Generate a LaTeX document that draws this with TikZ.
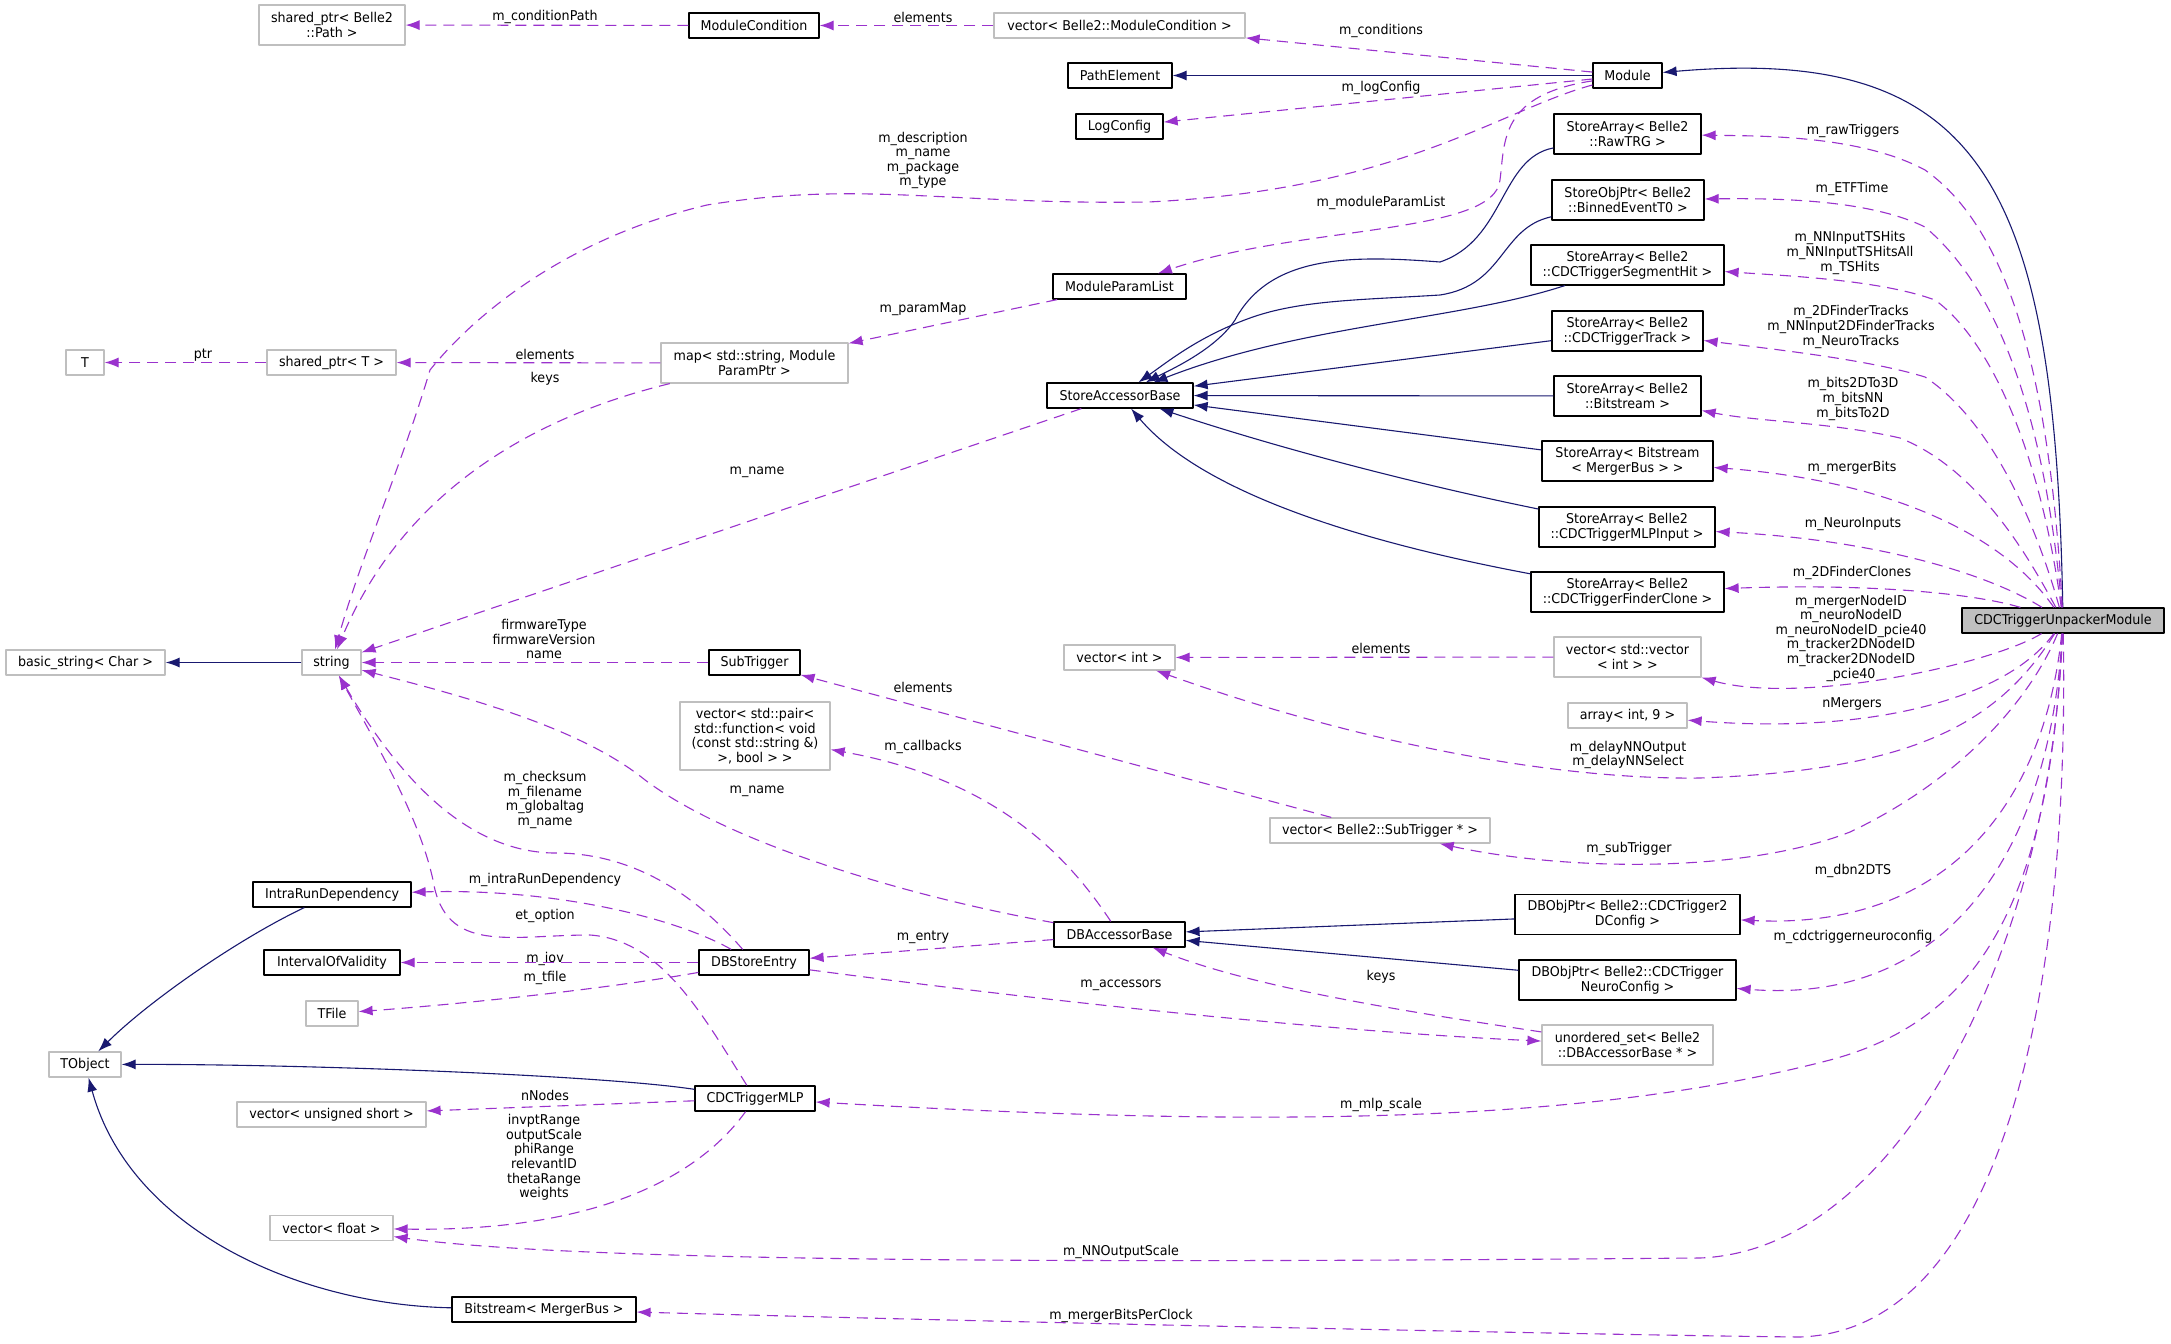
\documentclass[tikz,border=0pt]{standalone}
\usepackage{fontspec}
\setmainfont{DejaVu Sans}[FakeStretch=0.94]
\usetikzlibrary{arrows.meta}
\definecolor{edgeblue}{HTML}{191970}
\definecolor{edgepurple}{HTML}{9A32CD}
\definecolor{boxgray}{HTML}{BFBFBF}
\begin{document}
\begin{tikzpicture}[>={Latex[length=14bp,width=10bp]},line join=bevel,yscale=-1,
  font=\fontsize{13.5bp}{14.6bp}\selectfont,
  docbox/.style={draw=black,fill=white,line width=1.2bp,inner sep=2bp,minimum height=25bp,align=center},
  extbox/.style={docbox,draw=boxgray},
  edgelbl/.style={align=center,inner sep=0bp},
  baseedge/.style={draw=edgeblue,line width=1.1bp,->},
  memberedge/.style={draw=edgepurple,line width=1.1bp,dash pattern=on 11bp off 7bp,->},
]
%%
\fill [white] (0bp,0bp) rectangle (2171bp,1344bp);
\useasboundingbox (0bp,0bp) rectangle (2171bp,1344bp);
\node (shptr_path) at (332bp,25bp) [extbox,minimum width=146bp,minimum height=40bp] {shared\_ptr< Belle2\\::Path >};
  \node (module_condition) at (754bp,25.5bp) [docbox,minimum width=130bp] {ModuleCondition};
  \node (vec_module_condition) at (1119.5bp,25.5bp) [extbox,minimum width=251bp] {vector< Belle2::ModuleCondition >};
  \node (path_element) at (1120bp,75.5bp) [docbox,minimum width=104bp] {PathElement};
  \node (module) at (1627.5bp,75.5bp) [docbox,minimum width=69bp] {Module};
  \node (log_config) at (1119.5bp,126.5bp) [docbox,minimum width=87bp] {LogConfig};
  \node (raw_trg) at (1627.5bp,134bp) [docbox,minimum width=147bp,minimum height=40bp] {StoreArray< Belle2\\::RawTRG >};
  \node (binned_t0) at (1628bp,200bp) [docbox,minimum width=152bp,minimum height=40bp] {StoreObjPtr< Belle2\\::BinnedEventT0 >};
  \node (module_param_list) at (1119.5bp,286.5bp) [docbox,minimum width=133bp] {ModuleParamList};
  \node (segment_hit) at (1627.5bp,265bp) [docbox,minimum width=193bp,minimum height=40bp] {StoreArray< Belle2\\::CDCTriggerSegmentHit >};
  \node (t_node) at (85bp,362.5bp) [extbox,minimum width=38bp] {T};
  \node (shptr_t) at (331.5bp,362.5bp) [extbox,minimum width=129bp] {shared\_ptr< T >};
  \node (param_map) at (754.5bp,363bp) [extbox,minimum width=187bp,minimum height=40bp] {map< std::string, Module\\ParamPtr >};
  \node (trigger_track) at (1627.5bp,331bp) [docbox,minimum width=151bp,minimum height=40bp] {StoreArray< Belle2\\::CDCTriggerTrack >};
  \node (store_accessor) at (1120bp,395.5bp) [docbox,minimum width=146bp] {StoreAccessorBase};
  \node (bitstream) at (1627.5bp,396bp) [docbox,minimum width=147bp,minimum height=40bp] {StoreArray< Belle2\\::Bitstream >};
  \node (merger_bits) at (1627.5bp,461bp) [docbox,minimum width=171bp,minimum height=40bp] {StoreArray< Bitstream\\< MergerBus > >};
  \node (mlp_input) at (1627bp,527bp) [docbox,minimum width=176bp,minimum height=40bp] {StoreArray< Belle2\\::CDCTriggerMLPInput >};
  \node (finder_clone) at (1627.5bp,592bp) [docbox,minimum width=193bp,minimum height=40bp] {StoreArray< Belle2\\::CDCTriggerFinderClone >};
  \node (unpacker) at (2063bp,620.5bp) [docbox,fill=boxgray,minimum width=202bp] {CDCTriggerUnpackerModule};
  \node (vec_vec_int) at (1627.5bp,657bp) [extbox,minimum width=147bp,minimum height=40bp] {vector< std::vector\\< int > >};
  \node (vec_int) at (1119.5bp,657.5bp) [extbox,minimum width=111bp] {vector< int >};
  \node (basic_string) at (85.5bp,662.5bp) [extbox,minimum width=159bp] {basic\_string< Char >};
  \node (string_node) at (331.5bp,662.5bp) [extbox,minimum width=59bp] {string};
  \node (sub_trigger) at (754.5bp,662.5bp) [docbox,minimum width=91bp] {SubTrigger};
  \node (array_int) at (1627.5bp,715.5bp) [extbox,minimum width=119bp] {array< int, 9 >};
  \node (vec_pair) at (755bp,736bp) [extbox,minimum width=150bp,minimum height=68bp] {vector< std::pair<\\std::function< void\\(const std::string \&)\\>, bool > >};
  \node (vec_sub_trigger) at (1380bp,830.5bp) [extbox,minimum width=220bp] {vector< Belle2::SubTrigger * >};
  \node (intra_run) at (332bp,894.5bp) [docbox,minimum width=158bp] {IntraRunDependency};
  \node (db_2d) at (1627.5bp,914.5bp) [docbox,minimum width=225bp,minimum height=40bp] {DBObjPtr< Belle2::CDCTrigger2\\DConfig >};
  \node (db_accessor) at (1119.5bp,934.5bp) [docbox,minimum width=131bp] {DBAccessorBase};
  \node (iov) at (332bp,962.5bp) [docbox,minimum width=136bp] {IntervalOfValidity};
  \node (db_store_entry) at (754bp,962.5bp) [docbox,minimum width=110bp] {DBStoreEntry};
  \node (db_neuro) at (1627.5bp,980bp) [docbox,minimum width=217bp,minimum height=40bp] {DBObjPtr< Belle2::CDCTrigger\\NeuroConfig >};
  \node (tfile) at (332bp,1013.5bp) [extbox,minimum width=52bp] {TFile};
  \node (unordered_set) at (1627.5bp,1045bp) [extbox,minimum width=171bp,minimum height=40bp] {unordered\_set< Belle2\\::DBAccessorBase * >};
  \node (tobject) at (85bp,1064.5bp) [extbox,minimum width=72bp] {TObject};
  \node (cdc_mlp) at (755bp,1098.5bp) [docbox,minimum width=120bp] {CDCTriggerMLP};
  \node (vec_ushort) at (331.5bp,1114.5bp) [extbox,minimum width=189bp] {vector< unsigned short >};
  \node (vec_float) at (331.5bp,1228bp) [extbox,minimum width=123bp] {vector< float >};
  \node (merger_bus) at (544bp,1309.5bp) [docbox,minimum width=184bp] {Bitstream< MergerBus >};
%%
\node (lbl_condition_path) at (545bp,17bp) [edgelbl] {m\_conditionPath};
  \node (lbl_cond_elements) at (923bp,17bp) [edgelbl] {elements};
  \node (lbl_conditions) at (1381bp,31bp) [edgelbl] {m\_conditions};
  \node (lbl_log_config) at (1381bp,88bp) [edgelbl] {m\_logConfig};
  \node (lbl_description) at (923bp,160.5bp) [edgelbl] {m\_description\\m\_name\\m\_package\\m\_type};
  \node (lbl_param_list) at (1381bp,203bp) [edgelbl] {m\_moduleParamList};
  \node (lbl_param_map) at (923bp,309bp) [edgelbl] {m\_paramMap};
  \node (lbl_ptr) at (203bp,355bp) [edgelbl] {ptr};
  \node (lbl_map_elements) at (545bp,354bp) [edgelbl] {elements};
  \node (lbl_keys) at (545bp,379bp) [edgelbl] {keys};
  \node (lbl_sab_name) at (757bp,472bp) [edgelbl] {m\_name};
  \node (lbl_firmware) at (544bp,639bp) [edgelbl] {firmwareType\\firmwareVersion\\name};
  \node (lbl_checksum) at (545bp,800bp) [edgelbl] {m\_checksum\\m\_filename\\m\_globaltag\\m\_name};
  \node (lbl_intra) at (545bp,880bp) [edgelbl] {m\_intraRunDependency};
  \node (lbl_et_option) at (545bp,916bp) [edgelbl] {et\_option};
  \node (lbl_iov) at (545bp,959bp) [edgelbl] {m\_iov};
  \node (lbl_tfile) at (545bp,978bp) [edgelbl] {m\_tfile};
  \node (lbl_nnodes) at (545bp,1095bp) [edgelbl] {nNodes};
  \node (lbl_mlp_members) at (544bp,1157.5bp) [edgelbl] {invptRange\\outputScale\\phiRange\\relevantID\\thetaRange\\weights};
  \node (lbl_subtrig_elements) at (923bp,687bp) [edgelbl] {elements};
  \node (lbl_callbacks) at (923bp,747bp) [edgelbl] {m\_callbacks};
  \node (lbl_dba_name) at (757bp,791bp) [edgelbl] {m\_name};
  \node (lbl_entry) at (923bp,937bp) [edgelbl] {m\_entry};
  \node (lbl_accessors) at (1121bp,985bp) [edgelbl] {m\_accessors};
  \node (lbl_set_keys) at (1381bp,977bp) [edgelbl] {keys};
  \node (lbl_vec_elements) at (1381bp,648bp) [edgelbl] {elements};
  \node (lbl_raw) at (1853bp,131bp) [edgelbl] {m\_rawTriggers};
  \node (lbl_etf) at (1852bp,189bp) [edgelbl] {m\_ETFTime};
  \node (lbl_ts_hits) at (1850bp,253bp) [edgelbl] {m\_NNInputTSHits\\m\_NNInputTSHitsAll\\m\_TSHits};
  \node (lbl_tracks) at (1851bp,327bp) [edgelbl] {m\_2DFinderTracks\\m\_NNInput2DFinderTracks\\m\_NeuroTracks};
  \node (lbl_bits) at (1853bp,399bp) [edgelbl] {m\_bits2DTo3D\\m\_bitsNN\\m\_bitsTo2D};
  \node (lbl_merger_bits) at (1852bp,468bp) [edgelbl] {m\_mergerBits};
  \node (lbl_neuro_inputs) at (1853bp,524bp) [edgelbl] {m\_NeuroInputs};
  \node (lbl_clones) at (1852bp,573bp) [edgelbl] {m\_2DFinderClones};
  \node (lbl_node_ids) at (1851bp,638bp) [edgelbl] {m\_mergerNodeID\\m\_neuroNodeID\\m\_neuroNodeID\_pcie40\\m\_tracker2DNodeID\\m\_tracker2DNodeID\\\_pcie40};
  \node (lbl_nmergers) at (1852bp,704bp) [edgelbl] {nMergers};
  \node (lbl_delay) at (1628bp,755bp) [edgelbl] {m\_delayNNOutput\\m\_delayNNSelect};
  \node (lbl_subtrigger) at (1629bp,849bp) [edgelbl] {m\_subTrigger};
  \node (lbl_dbn) at (1853bp,871bp) [edgelbl] {m\_dbn2DTS};
  \node (lbl_neuroconfig) at (1853bp,937bp) [edgelbl] {m\_cdctriggerneuroconfig};
  \node (lbl_mlp_scale) at (1381bp,1105bp) [edgelbl] {m\_mlp\_scale};
  \node (lbl_nn_output) at (1121bp,1252bp) [edgelbl] {m\_NNOutputScale};
  \node (lbl_bits_per_clock) at (1121bp,1316bp) [edgelbl] {m\_mergerBitsPerClock};
%%
  \draw [baseedge] (module) -- (path_element);
  \draw [baseedge] (unpacker) .. controls (2055bp,180bp) and (1980bp,45bp) .. (module);
  \draw [baseedge] (raw_trg) .. controls (1500bp,158bp) and (1505bp,240bp) .. (1440bp,262bp) .. controls (1350bp,255bp) and (1270bp,255bp) .. (1235bp,320bp) .. controls (1215bp,350bp) and (1170bp,370bp) .. (store_accessor);
  \draw [baseedge] (binned_t0) .. controls (1500bp,228bp) and (1505bp,285bp) .. (1440bp,295bp) .. controls (1360bp,300bp) and (1300bp,300bp) .. (1250bp,318bp) .. controls (1200bp,336bp) and (1170bp,360bp) .. (store_accessor);
  \draw [baseedge] (segment_hit) .. controls (1460bp,320bp) and (1300bp,325bp) .. (store_accessor);
  \draw [baseedge] (trigger_track) -- (store_accessor);
  \draw [baseedge] (bitstream) -- (store_accessor);
  \draw [baseedge] (merger_bits) -- (store_accessor);
  \draw [baseedge] (mlp_input) .. controls (1430bp,487bp) and (1290bp,452bp) .. (store_accessor);
  \draw [baseedge] (finder_clone) .. controls (1350bp,540bp) and (1200bp,490bp) .. (store_accessor);
  \draw [baseedge] (string_node) -- (basic_string);
  \draw [baseedge] (intra_run) .. controls (240bp,938bp) and (150bp,1000bp) .. (tobject);
  \draw [baseedge] (cdc_mlp) .. controls (600bp,1075bp) and (300bp,1064bp) .. (tobject);
  \draw [baseedge] (merger_bus) .. controls (300bp,1305bp) and (130bp,1230bp) .. (tobject);
  \draw [baseedge] (db_2d) -- (db_accessor);
  \draw [baseedge] (db_neuro) -- (db_accessor);
%
  \draw [memberedge] (module_condition) -- (shptr_path);
  \draw [memberedge] (vec_module_condition) -- (module_condition);
  \draw [memberedge] (module) -- (vec_module_condition);
  \draw [memberedge] (module) -- (log_config);
  \draw [memberedge] (module) .. controls (1500bp,110bp) and (1400bp,190bp) .. (1148bp,202bp) .. controls (950bp,205bp) and (860bp,180bp) .. (707bp,205bp) .. controls (560bp,240bp) and (470bp,320bp) .. (430bp,370bp) .. controls (400bp,470bp) and (360bp,560bp) .. (string_node);
  \draw [memberedge] (module) .. controls (1500bp,95bp) and (1505bp,140bp) .. (1500bp,180bp) .. controls (1495bp,235bp) and (1300bp,225bp) .. (module_param_list);
  \draw [memberedge] (module_param_list) -- (param_map);
  \draw [memberedge] (param_map) -- (shptr_t);
  \draw [memberedge] (shptr_t) -- (t_node);
  \draw [memberedge] (param_map) .. controls (520bp,420bp) and (400bp,500bp) .. (string_node);
  \draw [memberedge] (store_accessor) -- (string_node);
  \draw [memberedge] (sub_trigger) -- (string_node);
  \draw [memberedge] (db_accessor) .. controls (900bp,895bp) and (720bp,840bp) .. (640bp,776bp) .. controls (580bp,730bp) and (480bp,700bp) .. (string_node);
  \draw [memberedge] (db_store_entry) .. controls (700bp,900bp) and (640bp,855bp) .. (560bp,853bp) .. controls (470bp,855bp) and (400bp,780bp) .. (string_node);
  \draw [memberedge] (cdc_mlp) .. controls (700bp,1010bp) and (660bp,940bp) .. (590bp,935bp) .. controls (510bp,935bp) and (445bp,955bp) .. (433bp,880bp) .. controls (420bp,820bp) and (380bp,750bp) .. (string_node);
  \draw [memberedge] (vec_sub_trigger) -- (sub_trigger);
  \draw [memberedge] (db_accessor) .. controls (1070bp,860bp) and (1000bp,780bp) .. (vec_pair);
  \draw [memberedge] (vec_vec_int) -- (vec_int);
  \draw [memberedge] (unpacker) .. controls (2000bp,720bp) and (1920bp,770bp) .. (1700bp,778bp) .. controls (1550bp,780bp) and (1350bp,740bp) .. (vec_int);
  \draw [memberedge] (db_store_entry) .. controls (1000bp,995bp) and (1300bp,1030bp) .. (unordered_set);
  \draw [memberedge] (unordered_set) .. controls (1430bp,1015bp) and (1260bp,990bp) .. (db_accessor);
  \draw [memberedge] (db_accessor) -- (db_store_entry);
  \draw [memberedge] (db_store_entry) .. controls (680bp,920bp) and (560bp,888bp) .. (intra_run);
  \draw [memberedge] (db_store_entry) -- (iov);
  \draw [memberedge] (db_store_entry) .. controls (600bp,990bp) and (450bp,1005bp) .. (tfile);
  \draw [memberedge] (cdc_mlp) -- (vec_ushort);
  \draw [memberedge] (cdc_mlp) .. controls (700bp,1175bp) and (600bp,1232bp) .. (vec_float);
%
  \draw [memberedge] (unpacker) .. controls (2050bp,380bp) and (2010bp,230bp) .. (1925bp,170bp) .. controls (1860bp,135bp) and (1760bp,136bp) .. (raw_trg);
  \draw [memberedge] (unpacker) .. controls (2045bp,420bp) and (2000bp,290bp) .. (1925bp,227bp) .. controls (1870bp,200bp) and (1780bp,198bp) .. (binned_t0);
  \draw [memberedge] (unpacker) .. controls (2040bp,450bp) and (1990bp,340bp) .. (1935bp,300bp) .. controls (1880bp,280bp) and (1790bp,276bp) .. (segment_hit);
  \draw [memberedge] (unpacker) .. controls (2035bp,520bp) and (1990bp,420bp) .. (1925bp,377bp) .. controls (1870bp,360bp) and (1780bp,350bp) .. (trigger_track);
  \draw [memberedge] (unpacker) .. controls (2030bp,560bp) and (1980bp,470bp) .. (1900bp,438bp) .. controls (1830bp,422bp) and (1760bp,422bp) .. (bitstream);
  \draw [memberedge] (unpacker) .. controls (2000bp,530bp) and (1880bp,480bp) .. (merger_bits);
  \draw [memberedge] (unpacker) .. controls (1990bp,575bp) and (1880bp,540bp) .. (mlp_input);
  \draw [memberedge] (unpacker) .. controls (1980bp,595bp) and (1880bp,583bp) .. (finder_clone);
  \draw [memberedge] (unpacker) .. controls (1990bp,665bp) and (1800bp,705bp) .. (vec_vec_int);
  \draw [memberedge] (unpacker) .. controls (2010bp,695bp) and (1880bp,735bp) .. (array_int);
  \draw [memberedge] (unpacker) .. controls (2030bp,700bp) and (1960bp,780bp) .. (1850bp,832bp) .. controls (1740bp,875bp) and (1560bp,870bp) .. (vec_sub_trigger);
  \draw [memberedge] (unpacker) .. controls (2045bp,800bp) and (1950bp,930bp) .. (db_2d);
  \draw [memberedge] (unpacker) .. controls (2050bp,850bp) and (1950bp,1005bp) .. (db_neuro);
  \draw [memberedge] (unpacker) .. controls (2050bp,900bp) and (1980bp,1020bp) .. (1830bp,1060bp) .. controls (1600bp,1120bp) and (1300bp,1130bp) .. (cdc_mlp);
  \draw [memberedge] (unpacker) .. controls (2050bp,950bp) and (1900bp,1250bp) .. (1700bp,1258bp) .. controls (1200bp,1262bp) and (600bp,1265bp) .. (vec_float);
  \draw [memberedge] (unpacker) .. controls (2070bp,1000bp) and (2000bp,1330bp) .. (1800bp,1337bp) .. controls (1600bp,1335bp) and (1000bp,1322bp) .. (merger_bus);
%
\end{tikzpicture}
\end{document}
